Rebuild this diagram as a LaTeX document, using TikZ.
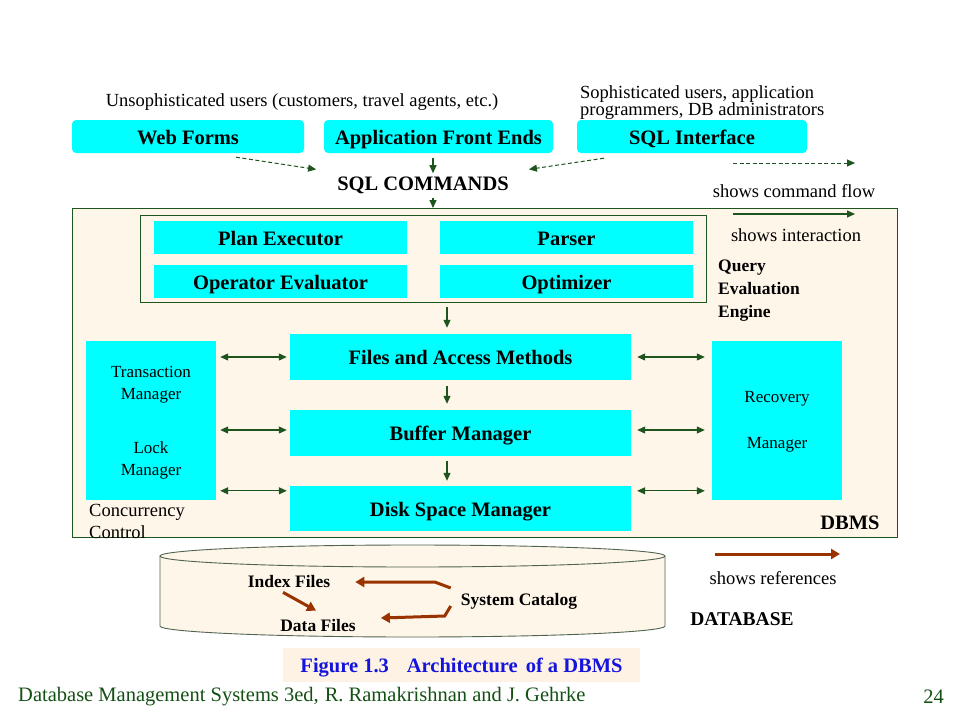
\documentclass[tikz,border=0pt]{standalone}
\usepackage{fontspec}
\setmainfont{Liberation Serif}
\usetikzlibrary{arrows.meta,calc}
\definecolor{cyanbox}{RGB}{0,255,255}
\definecolor{dgreen}{RGB}{30,85,30}
\definecolor{beige}{RGB}{255,246,234}
\definecolor{capbg}{RGB}{253,242,228}
\definecolor{brownref}{RGB}{153,51,0}
\definecolor{capblue}{RGB}{20,20,220}
\definecolor{footgreen}{RGB}{20,80,20}
\definecolor{cylline}{RGB}{80,100,80}
\newcommand{\fbig}{\fontsize{20.5}{23}\selectfont\bfseries}
\newcommand{\fplain}{\fontsize{18.5}{21}\selectfont}
\newcommand{\fsmallb}{\fontsize{17.5}{20}\selectfont\bfseries}
\tikzset{
  cbox/.style={fill=cyanbox,inner sep=0pt,font=\fbig,text=black,text height=15pt,text depth=0pt},
  rbox/.style={cbox,rounded corners=4pt},
  cmdflow/.style={draw=dgreen,dashed,dash pattern=on 4pt off 2.5pt,line width=1pt,-{Triangle[length=8pt,width=7pt]}},
  inter/.style={draw=dgreen,line width=1.1pt,-{Triangle[length=8pt,width=7pt]}},
  biinter/.style={draw=dgreen,line width=1.1pt,{Triangle[length=8pt,width=7pt]}-{Triangle[length=8pt,width=7pt]}},
  refarrow/.style={draw=brownref,line width=3pt,-{Triangle[length=9pt,width=10pt]}},
  plain/.style={font=\fplain,inner sep=0pt},
}
\begin{document}
\begin{tikzpicture}[x=1pt,y=-1pt]
\useasboundingbox (0,0) rectangle (960,720);
\fill[white] (0,0) rectangle (960,720);

% top texts
\node[plain] (unsoph) at (302,102) {Unsophisticated users (customers, travel agents, etc.)};
\node[plain,anchor=west,align=left] (soph) at (580,103) {Sophisticated users, application\\[-4pt]programmers, DB administrators};

% top boxes
\node[rbox,minimum width=232pt,minimum height=33pt] (web) at (188,136.5) {Web Forms};
\node[rbox,minimum width=229pt,minimum height=33pt] (afe) at (438.5,136.5) {Application Front Ends};
\node[rbox,minimum width=230pt,minimum height=33pt] (sqli) at (692,136.5) {SQL Interface};

\node[font=\fbig,inner sep=0pt] (sqlcmd) at (423,185) {SQL COMMANDS};

% DBMS container
\draw[dgreen,fill=beige,line width=0.8pt] (72,208) rectangle (897,537);
\coordinate (dbmstop) at (433,208);
\draw[dgreen,line width=0.8pt] (140,215) rectangle (706,302);
\coordinate (qeebot) at (447,302);

% command flow arrows
\draw[cmdflow] ($(web.south)+(48,4)$) -- ($(sqlcmd.north west)+(-21,-7)$);
\draw[cmdflow] ($(sqli.south)+(-88,5)$) -- ($(sqlcmd.north east)+(20,-7)$);
\draw[inter] ($(afe.south)+(-5.5,5)$) -- ($(afe.south)+(-5.5,20)$);
\draw[inter] ($(sqlcmd.south)+(10,4)$) -- (dbmstop);

% legend
\coordinate (lg1a) at (733,163); \coordinate (lg1b) at (855,163);
\draw[cmdflow] (lg1a) -- (lg1b);
\node[plain] (lgt1) at (794,191) {shows command flow};
\coordinate (lg2a) at (733,214); \coordinate (lg2b) at (855,214);
\draw[inter] (lg2a) -- (lg2b);
\node[plain] (lgt2) at (796,235) {shows interaction};

% query evaluation engine
\node[cbox,minimum width=253pt,minimum height=33pt] (pe) at (280.5,237.5) {Plan Executor};
\node[cbox,minimum width=253pt,minimum height=33pt] (parser) at (566.5,237.5) {Parser};
\node[cbox,minimum width=253pt,minimum height=33pt] (oe) at (280.5,281.5) {Operator Evaluator};
\node[cbox,minimum width=253pt,minimum height=33pt] (opt) at (566.5,281.5) {Optimizer};
\node[font=\fsmallb,anchor=north west,align=left,inner sep=0pt] (qee) at (718,260) {Query\\[3pt]Evaluation\\[3pt]Engine};

% storage layers
\node[cbox,minimum width=341pt,minimum height=46pt] (fam) at (460.5,357) {Files and Access Methods};
\node[cbox,minimum width=341pt,minimum height=46pt] (bm) at (460.5,433) {Buffer Manager};
\node[cbox,minimum width=341pt,minimum height=45pt] (dsm) at (460.5,508.5) {Disk Space Manager};

\draw[inter] ($(qeebot)+(0,5)$) -- ($(fam.north)+(-13.5,-6)$);
\draw[inter] ($(fam.south)+(-13.5,6)$) -- ($(bm.north)+(-13.5,-6)$);
\draw[inter] ($(bm.south)+(-13.5,5)$) -- ($(dsm.north)+(-13.5,-5)$);

% side boxes
\node[fill=cyanbox,minimum width=130pt,minimum height=159pt,inner sep=0pt] (tm) at (151,420.5) {};
\node[plain,font=\fontsize{17}{20}\selectfont,align=center] (tmt) at (151,385) {Transaction\\[2pt]Manager};
\node[plain,font=\fontsize{17}{20}\selectfont,align=center] (lmt) at (151,460) {Lock\\[2pt]Manager};
\node[fill=cyanbox,minimum width=130pt,minimum height=159pt,inner sep=0pt] (rm) at (777,420.5) {};
\node[plain,font=\fontsize{17}{20}\selectfont,align=center] (rmt) at (777,422) {Recovery\\[26pt]Manager};

\draw[biinter] ($(tm.east |- fam)+(4,0)$) -- ($(fam.west)+(-3,0)$);
\draw[biinter] ($(tm.east |- bm)+(4,-3)$) -- ($(bm.west)+(-3,-3)$);
\draw[biinter] ($(tm.east |- dsm.north)+(4,5)$) -- ($(dsm.north west)+(-3,5)$);
\draw[biinter] ($(fam.east)+(6,0)$) -- ($(rm.west |- fam)+(-7,0)$);
\draw[biinter] ($(bm.east)+(6,-3)$) -- ($(rm.west |- bm)+(-7,-3)$);
\draw[biinter] ($(dsm.north east)+(6,5)$) -- ($(rm.west |- dsm.north)+(-7,5)$);

\node[plain,anchor=north west,align=left] (cc) at (89,504) {Concurrency\\[1pt]Control};
\node[font=\fbig,inner sep=0pt] (dbms) at (850,523) {DBMS};

% database cylinder
\draw[draw=cylline,fill=beige,line width=0.9pt]
  (160,556) -- (160,626) arc[start angle=180,end angle=0,x radius=252.5,y radius=11] -- (665,556);
\draw[draw=cylline,fill=beige,line width=0.9pt] (412.5,556) ellipse[x radius=252.5,y radius=11];

\node[font=\fsmallb,inner sep=0pt] (idx) at (289,582) {Index Files};
\node[font=\fsmallb,inner sep=0pt] (dat) at (318,626) {Data Files};
\node[font=\fsmallb,inner sep=0pt] (cat) at (519,601) {System Catalog};

\draw[refarrow] ($(idx.south)+(-6,4)$) -- ($(dat.north)+(-2,-9)$);
\draw[refarrow] ($(cat.west)+(-10,-13)$) -- ($(cat.west)+(-26,-19)$) -- ($(idx.east)+(25,0)$);
\draw[refarrow] ($(cat.west)+(-10,5)$) -- ($(cat.west)+(-16,15)$) -- ($(dat.east)+(25,-8)$);

\coordinate (lg3a) at (715,554); \coordinate (lg3b) at (840,554);
\draw[refarrow] (lg3a) -- (lg3b);
\node[plain] (lgt3) at (773,578) {shows references};
\node[font=\fontsize{19.5}{22}\selectfont\bfseries,inner sep=0pt] (db) at (742,619) {DATABASE};

% caption
\node[fill=capbg,minimum width=357pt,minimum height=34pt,inner sep=0pt,text=capblue,font=\fbig,text height=15pt,text depth=0pt] (cap) at (461.5,665) {Figure 1.3\hspace{18pt}Architecture\hspace{8pt}of a DBMS};

% footer
\node[anchor=west,inner sep=0pt,text=footgreen,font=\fontsize{20.5}{23}\selectfont] (foot) at (18,697) {Database Management Systems 3ed,\hspace{6pt}R. Ramakrishnan and J. Gehrke};
\node[anchor=east,inner sep=0pt,text=footgreen,font=\fontsize{20.5}{23}\selectfont] (page) at (944,697) {24};
\end{tikzpicture}
\end{document}
